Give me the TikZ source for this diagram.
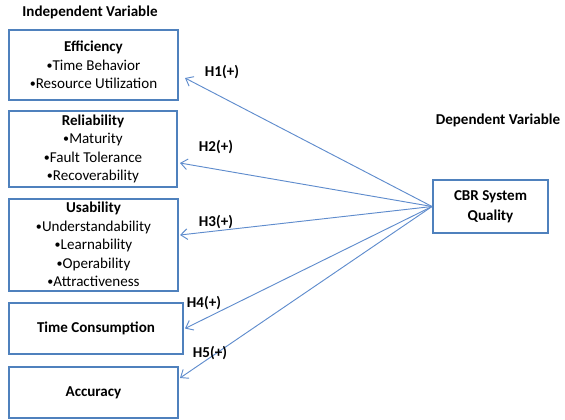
\documentclass[tikz,border=0pt]{standalone}
\usepackage{fontspec}
\setmainfont{Carlito}
\usetikzlibrary{arrows.meta}
\definecolor{boxblue}{RGB}{79,129,189}
\definecolor{arrblue}{RGB}{95,140,205}
\newcommand{\mybul}{\raisebox{0.15ex}{\scalebox{0.8}{•}}}
\tikzset{
  varbox/.style={draw=boxblue, line width=1.5pt, rectangle, inner sep=0pt, align=center,
    font=\fontsize{11.3}{13.9}\selectfont},
  hlabel/.style={font=\fontsize{11.3}{13}\selectfont\bfseries, inner sep=0pt},
  headlabel/.style={font=\fontsize{11.3}{13}\selectfont\bfseries, inner sep=0pt},
  hyparrow/.style={draw=arrblue, line width=0.7pt, -{Straight Barb[length=5pt,width=8pt]}}
}
\begin{document}
\begin{tikzpicture}[x=0.75pt, y=-0.75pt]
\useasboundingbox (0,0) rectangle (565,419);
\node[headlabel] (indep) at (90,12) {Independent Variable};
\node[headlabel] (dep) at (498,120) {Dependent Variable};

\node[varbox, minimum width=126.75pt, minimum height=52.5pt] (e1) at (93.5,65)
  {\textbf{Efficiency}\\\mybul Time Behavior\\\mybul Resource Utilization};
\node[varbox, minimum width=126pt, minimum height=57pt] (e2) at (93,149)
  {\textbf{Reliability}\\\mybul Maturity\\\mybul Fault Tolerance\\\mybul Recoverability};
\node[varbox, minimum width=126.75pt, minimum height=69pt] (e3) at (93.5,244.5)
  {\textbf{Usability}\\\mybul Understandability\\\mybul Learnability\\\mybul Operability\\\mybul Attractiveness};
\node[varbox, minimum width=130.5pt, minimum height=38.25pt] (e4) at (96,328.5)
  {\textbf{Time Consumption}};
\node[varbox, minimum width=126.75pt, minimum height=38.25pt] (e5) at (93.5,392.5)
  {\textbf{Accuracy}};
\node[varbox, minimum width=86.25pt, minimum height=39.75pt,
      font=\fontsize{11.3}{15}\selectfont] (cbr) at (490.5,206.5)
  {\textbf{CBR System}\\\textbf{Quality}};

\draw[hyparrow] (cbr.west) -- ([shift={(6,13)}]e1.east);
\draw[hyparrow] (cbr.west) -- ([shift={(2,14)}]e2.east);
\draw[hyparrow] (cbr.west) -- ([shift={(1,-9.5)}]e3.east);
\draw[hyparrow] (cbr.west) -- ([shift={(1,0)}]e4.east);
\draw[hyparrow] (cbr.west) -- ([shift={(1,-14.5)}]e5.east);

\node[hlabel] (h1) at (222,72) {H1(+)};
\node[hlabel] (h2) at (216,147) {H2(+)};
\node[hlabel] (h3) at (216,222) {H3(+)};
\node[hlabel] (h4) at (204,303) {H4(+)};
\node[hlabel] (h5) at (210,353) {H5(+)};
\end{tikzpicture}
\end{document}
